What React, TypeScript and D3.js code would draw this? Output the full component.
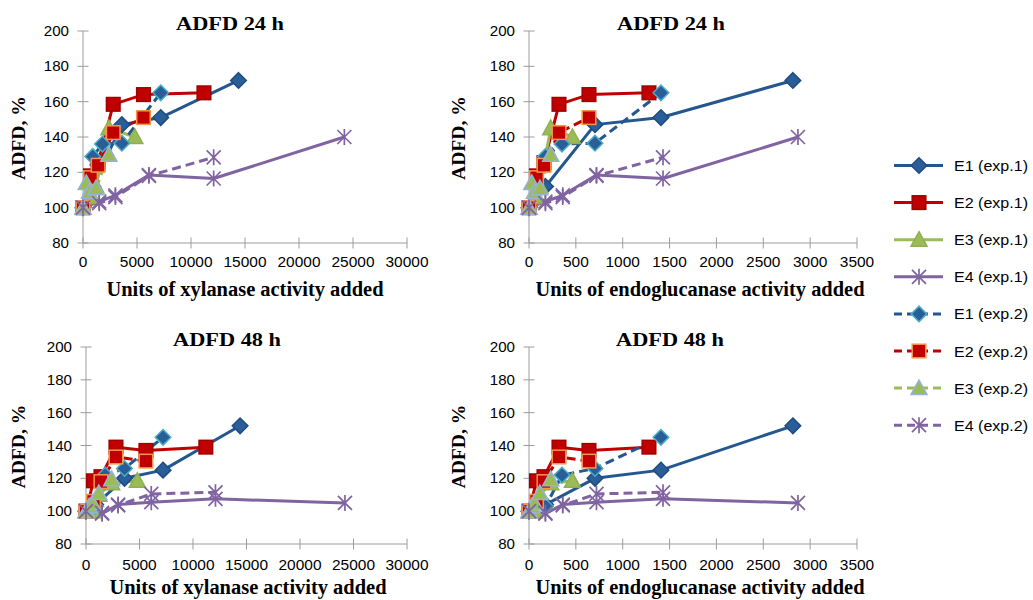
import React from 'react';
import * as d3 from 'd3';

// ---------- data ----------
const yTicks = [80, 100, 120, 140, 160, 180, 200];
const xTicksXyl = [0, 5000, 10000, 15000, 20000, 25000, 30000];
const xTicksEndo = [0, 500, 1000, 1500, 2000, 2500, 3000, 3500];

const panelTitles = ['ADFD 24 h', 'ADFD 24 h', 'ADFD 48 h', 'ADFD 48 h'];
const xAxisTitles = ['Units of xylanase activity added', 'Units of endoglucanase activity added'];
const yAxisTitle = 'ADFD, %';

// E1
const e1Exp1Endo = [0, 176, 704, 1408, 2816];
const e1Exp1Xyl = [0, 900, 3600, 7200, 14400];
const e1Exp1H24 = [100, 112, 147, 151, 172];
const e1Exp1H48 = [100, 104, 120, 125, 152];
const e1Exp2Endo = [0, 176, 352, 704, 1408];
const e1Exp2Xyl = [0, 900, 1800, 3600, 7200];
const e1Exp2H24 = [100, 129, 136, 136.5, 165];
const e1Exp2H48 = [100, 103, 122, 126, 145];
// E2
const e2Exp1Endo = [0, 80, 160, 320, 640, 1280];
const e2Exp1Xyl = [0, 700, 1400, 2800, 5600, 11200];
const e2Exp1H24 = [100, 118, 125.5, 158.5, 164, 165];
const e2Exp1H48 = [100, 118.5, 121, 139, 137, 139];
const e2Exp2Endo = [0, 80, 160, 320, 640];
const e2Exp2Xyl = [0, 700, 1400, 2800, 5600];
const e2Exp2H24 = [100, 117, 124, 142.5, 151];
const e2Exp2H48 = [100, 106, 118, 133, 130.5];
// E3
const e3Exp1Endo = [0, 58, 116, 232, 464];
const e3Exp1Xyl = [0, 600, 1200, 2400, 4800];
const e3Exp1H24 = [100, 106, 112, 145, 140];
const e3Exp1H48 = [100, 100, 110, 117, 118.5];
const e3Exp2Endo = [0, 29, 58, 116, 232];
const e3Exp2Xyl = [0, 300, 600, 1200, 2400];
const e3Exp2H24 = [100, 114, 109, 111, 130];
const e3Exp2H48 = [100, 103, 105, 111, 119.5];
// E4
const e4Exp1Endo = [0, 175, 360, 720, 1430, 2870];
const e4Exp1Xyl = [0, 1500, 3000, 6100, 12100, 24200];
const e4Exp1H24 = [100, 103.5, 107, 118.5, 116.5, 140];
const e4Exp1H48 = [100, 98.5, 104, 105.5, 107.5, 105];
const e4Exp2Endo = [0, 175, 360, 720, 1430];
const e4Exp2Xyl = [0, 1500, 3000, 6100, 12100];
const e4Exp2H24 = [100, 102.5, 106, 118, 128.5];
const e4Exp2H48 = [100, 99, 103.5, 110.5, 111.5];

const seriesNames = ['E1 (exp.1)', 'E2 (exp.1)', 'E3 (exp.1)', 'E4 (exp.1)', 'E1 (exp.2)', 'E2 (exp.2)', 'E3 (exp.2)', 'E4 (exp.2)'];

// ---------- styles ----------
type Sty = { line: string; fill: string; stroke: string; shape: string; dashed: boolean };
const styles: Sty[] = [
  { line: '#24578F', fill: '#2A5E98', stroke: '#1F4B80', shape: 'diamond', dashed: false },
  { line: '#C00000', fill: '#C00000', stroke: '#A00000', shape: 'square', dashed: false },
  { line: '#9BBB59', fill: '#9BBB59', stroke: '#8FB04E', shape: 'triangle', dashed: false },
  { line: '#8064A2', fill: 'none', stroke: '#7A5E9E', shape: 'star', dashed: false },
  { line: '#24578F', fill: '#2A5E98', stroke: '#4BACC6', shape: 'diamond', dashed: true },
  { line: '#C00000', fill: '#C00000', stroke: '#F79646', shape: 'square', dashed: true },
  { line: '#9BBB59', fill: '#9BBB59', stroke: '#95B3D7', shape: 'triangle', dashed: true },
  { line: '#8064A2', fill: 'none', stroke: '#7A5E9E', shape: 'star', dashed: true },
];

const series = [
  { endo: e1Exp1Endo, xyl: e1Exp1Xyl, h24: e1Exp1H24, h48: e1Exp1H48 },
  { endo: e2Exp1Endo, xyl: e2Exp1Xyl, h24: e2Exp1H24, h48: e2Exp1H48 },
  { endo: e3Exp1Endo, xyl: e3Exp1Xyl, h24: e3Exp1H24, h48: e3Exp1H48 },
  { endo: e4Exp1Endo, xyl: e4Exp1Xyl, h24: e4Exp1H24, h48: e4Exp1H48 },
  { endo: e1Exp2Endo, xyl: e1Exp2Xyl, h24: e1Exp2H24, h48: e1Exp2H48 },
  { endo: e2Exp2Endo, xyl: e2Exp2Xyl, h24: e2Exp2H24, h48: e2Exp2H48 },
  { endo: e3Exp2Endo, xyl: e3Exp2Xyl, h24: e3Exp2H24, h48: e3Exp2H48 },
  { endo: e4Exp2Endo, xyl: e4Exp2Xyl, h24: e4Exp2H24, h48: e4Exp2H48 },
].map((s, i) => ({ ...s, name: seriesNames[i], sty: styles[i] }));

const AXIS = '#9C9C9C';
const SANS = '"Liberation Sans", Arial, sans-serif';
const SERIF = '"Liberation Serif", "Times New Roman", serif';

function Marker({ shape, cx, cy, sty }: { shape: string; cx: number; cy: number; sty: Sty }) {
  if (shape === 'diamond') {
    const r = 7.8;
    return <path d={`M${cx},${cy - r}L${cx + r},${cy}L${cx},${cy + r}L${cx - r},${cy}Z`} fill={sty.fill} stroke={sty.stroke} strokeWidth={1.5} />;
  }
  if (shape === 'square') {
    const r = 6.8;
    return <rect x={cx - r} y={cy - r} width={2 * r} height={2 * r} fill={sty.fill} stroke={sty.stroke} strokeWidth={1.5} />;
  }
  if (shape === 'triangle') {
    return <path d={`M${cx},${cy - 8}L${cx + 8},${cy + 6.5}L${cx - 8},${cy + 6.5}Z`} fill={sty.fill} stroke={sty.stroke} strokeWidth={1.5} />;
  }
  const r = 7;
  return (
    <path
      d={`M${cx - r},${cy - r}L${cx + r},${cy + r}M${cx - r},${cy + r}L${cx + r},${cy - r}M${cx},${cy - r - 1}L${cx},${cy + r + 1}`}
      stroke={sty.line}
      strokeWidth={1.7}
      fill="none"
    />
  );
}

type PanelDef = {
  title: string; time: 'h24' | 'h48'; dose: 'xyl' | 'endo'; xTicks: number[]; xTitle: string;
  x0: number; x1: number; yb: number; yt: number; titleX: number; titleY: number;
  yTitleX: number; xTitleX: number; xTitleY: number; xTitleW: number; tickLabelY: number;
};

const panels: PanelDef[] = [
  { title: panelTitles[0], time: 'h24', dose: 'xyl', xTicks: xTicksXyl, xTitle: xAxisTitles[0], x0: 83, x1: 407, yb: 243, yt: 31, titleX: 230, titleY: 29.5, yTitleX: 25, xTitleX: 245, xTitleY: 296, xTitleW: 277, tickLabelY: 267 },
  { title: panelTitles[1], time: 'h24', dose: 'endo', xTicks: xTicksEndo, xTitle: xAxisTitles[1], x0: 529, x1: 857, yb: 243, yt: 31, titleX: 671, titleY: 29.5, yTitleX: 465, xTitleX: 700, xTitleY: 296, xTitleW: 329, tickLabelY: 267 },
  { title: panelTitles[2], time: 'h48', dose: 'xyl', xTicks: xTicksXyl, xTitle: xAxisTitles[0], x0: 86, x1: 407, yb: 544, yt: 347, titleX: 227, titleY: 345.5, yTitleX: 25, xTitleX: 248, xTitleY: 594, xTitleW: 277, tickLabelY: 570 },
  { title: panelTitles[3], time: 'h48', dose: 'endo', xTicks: xTicksEndo, xTitle: xAxisTitles[1], x0: 529, x1: 857, yb: 544, yt: 347, titleX: 670, titleY: 345.5, yTitleX: 465, xTitleX: 700, xTitleY: 594, xTitleW: 329, tickLabelY: 570 },
];

function Panel({ p }: { p: PanelDef }) {
  const x = d3.scaleLinear().domain([0, p.xTicks[p.xTicks.length - 1]]).range([p.x0, p.x1]);
  const y = d3.scaleLinear().domain([80, 200]).range([p.yb, p.yt]);
  const line = d3.line<[number, number]>().x((d) => x(d[0])).y((d) => y(d[1]));
  const pts = series.map((s) => s[p.dose].map((d, i) => [d, s[p.time][i]] as [number, number]));
  return (
    <g>
      {/* axes */}
      <line x1={p.x0} x2={p.x0} y1={p.yt} y2={p.yb} stroke={AXIS} strokeWidth={1} />
      <line x1={p.x0} x2={p.x1} y1={p.yb} y2={p.yb} stroke={AXIS} strokeWidth={1} />
      {yTicks.map((t) => (
        <g key={'y' + t}>
          <line x1={p.x0 - 5.5} x2={p.x0 + 5.5} y1={y(t)} y2={y(t)} stroke={AXIS} />
          <text x={p.x0 - 14} y={y(t) + 5} textAnchor="end" fontFamily={SANS} fontSize={14} fill="#000"
            textLength={String(t).length * 8.4} lengthAdjust="spacingAndGlyphs">{t}</text>
        </g>
      ))}
      {p.xTicks.map((t) => (
        <g key={'x' + t}>
          <line x1={x(t)} x2={x(t)} y1={p.yb - 5.5} y2={p.yb + 5.5} stroke={AXIS} />
          <text x={x(t)} y={p.tickLabelY} textAnchor="middle" fontFamily={SANS} fontSize={14} fill="#000"
            textLength={String(t).length * 8.6} lengthAdjust="spacingAndGlyphs">{t}</text>
        </g>
      ))}
      {/* titles */}
      <text x={p.titleX} y={p.titleY} textAnchor="middle" fontFamily={SERIF} fontWeight="bold" fontSize={19}
        textLength={108} lengthAdjust="spacingAndGlyphs">{p.title}</text>
      <text transform={`translate(${p.yTitleX},${(p.yt + p.yb) / 2 + 1}) rotate(-90)`} textAnchor="middle" fontFamily={SERIF}
        fontWeight="bold" fontSize={19} textLength={84} lengthAdjust="spacingAndGlyphs">{yAxisTitle}</text>
      <text x={p.xTitleX} y={p.xTitleY} textAnchor="middle" fontFamily={SERIF} fontWeight="bold" fontSize={20.5}
        textLength={p.xTitleW} lengthAdjust="spacingAndGlyphs">{p.xTitle}</text>
      {/* lines */}
      {series.map((s, i) => (
        <path key={'l' + i} d={line(pts[i]) || ''} fill="none" stroke={s.sty.line} strokeWidth={3}
          strokeDasharray={s.sty.dashed ? '9,5' : undefined} strokeLinejoin="round" />
      ))}
      {/* markers */}
      {series.map((s, i) => (
        <g key={'m' + i}>
          {pts[i].map((d, j) => (
            <Marker key={j} shape={s.sty.shape} cx={x(d[0])} cy={y(d[1])} sty={s.sty} />
          ))}
        </g>
      ))}
    </g>
  );
}

function Legend() {
  const y0 = 165.5;
  const step = 37.1;
  return (
    <g>
      {series.map((s, i) => {
        const cy = y0 + i * step;
        return (
          <g key={i}>
            <line x1={894} x2={943} y1={cy} y2={cy} stroke={s.sty.line} strokeWidth={3}
              strokeDasharray={s.sty.dashed ? '8,5' : undefined} />
            <Marker shape={s.sty.shape} cx={919} cy={cy} sty={s.sty} />
            <text x={954} y={cy + 5.5} fontFamily={SANS} fontSize={15.5} fill="#000"
              textLength={74} lengthAdjust="spacingAndGlyphs">{s.name}</text>
          </g>
        );
      })}
    </g>
  );
}

export default function App() {
  return (
    <svg width={1033} height={600} style={{ position: 'absolute', left: 0, top: 0, background: '#fff' }}>
      <rect width={1033} height={600} fill="#fff" />
      {panels.map((p, i) => <Panel key={i} p={p} />)}
      <Legend />
    </svg>
  );
}
